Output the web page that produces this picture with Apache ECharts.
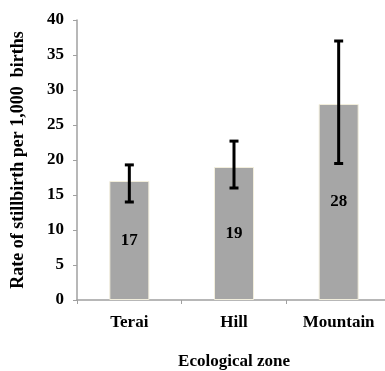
<!DOCTYPE html>
<html><head><meta charset="utf-8">
<script src="https://cdn.jsdelivr.net/npm/echarts@6/dist/echarts.min.js"></script>
<style>html,body{margin:0;padding:0;background:#fff}#c{width:385px;height:371px}</style>
</head><body><div id="c"></div>
<script>
const categories = ['Terai', 'Hill', 'Mountain'];
const rates = [17, 19, 28];
const errLow = [14.0, 16.0, 19.5];
const errHigh = [19.3, 22.7, 37.0];
const yTicks = [0, 5, 10, 15, 20, 25, 30, 35, 40];

const font = 'Liberation Serif, Times New Roman, serif';
const chart = echarts.init(document.getElementById('c'));
chart.setOption({
  animation: false,
  grid: { left: 77, top: 20, right: -6, bottom: 71, containLabel: false, outerBoundsMode: 'none' },
  xAxis: {
    type: 'category', data: categories,
    axisLine: { lineStyle: { color: '#a0a0a0', width: 1.5 } },
    axisTick: { show: true, length: 4, lineStyle: { color: '#a0a0a0' }, alignWithLabel: false },
    axisLabel: { color: '#000', fontFamily: font, fontWeight: 'bold', fontSize: 17, margin: 14 },
    name: 'Ecological zone', nameLocation: 'middle', nameGap: 53,
    nameTextStyle: { color: '#000', fontFamily: font, fontWeight: 'bold', fontSize: 17 }
  },
  yAxis: {
    type: 'value', min: yTicks[0], max: yTicks[yTicks.length - 1], interval: 5,
    axisLine: { show: true, lineStyle: { color: '#a0a0a0', width: 1.5 } },
    axisTick: { show: true, length: 4, lineStyle: { color: '#a0a0a0' } },
    splitLine: { show: false },
    axisLabel: { color: '#000', fontFamily: font, fontWeight: 'bold', fontSize: 17, margin: 13 },
    name: 'Rate of stillbirth per 1,000  births', nameLocation: 'middle', nameGap: 50, nameRotate: 90,
    nameTextStyle: { color: '#000', fontFamily: font, fontWeight: 'bold', fontSize: 18 }
  },
  series: [
    {
      type: 'bar', data: rates, barWidth: 40,
      itemStyle: { color: '#a6a6a6', borderColor: '#f2eedc', borderWidth: 1 },
      label: { show: true, position: 'inside', color: '#000', fontFamily: font, fontWeight: 'bold', fontSize: 17 }
    },
    {
      type: 'custom',
      data: categories.map((c, i) => [i, errLow[i], errHigh[i]]),
      renderItem: function (params, api) {
        const lo = api.coord([api.value(0), api.value(1)]);
        const hi = api.coord([api.value(0), api.value(2)]);
        const hw = 4.5;
        const st = { stroke: '#000', lineWidth: 3 };
        return {
          type: 'group', children: [
            { type: 'line', shape: { x1: hi[0], y1: hi[1], x2: lo[0], y2: lo[1] }, style: st },
            { type: 'line', shape: { x1: hi[0] - hw, y1: hi[1], x2: hi[0] + hw, y2: hi[1] }, style: st },
            { type: 'line', shape: { x1: lo[0] - hw, y1: lo[1], x2: lo[0] + hw, y2: lo[1] }, style: st }
          ]
        };
      },
      z: 10
    }
  ]
});
</script></body></html>
